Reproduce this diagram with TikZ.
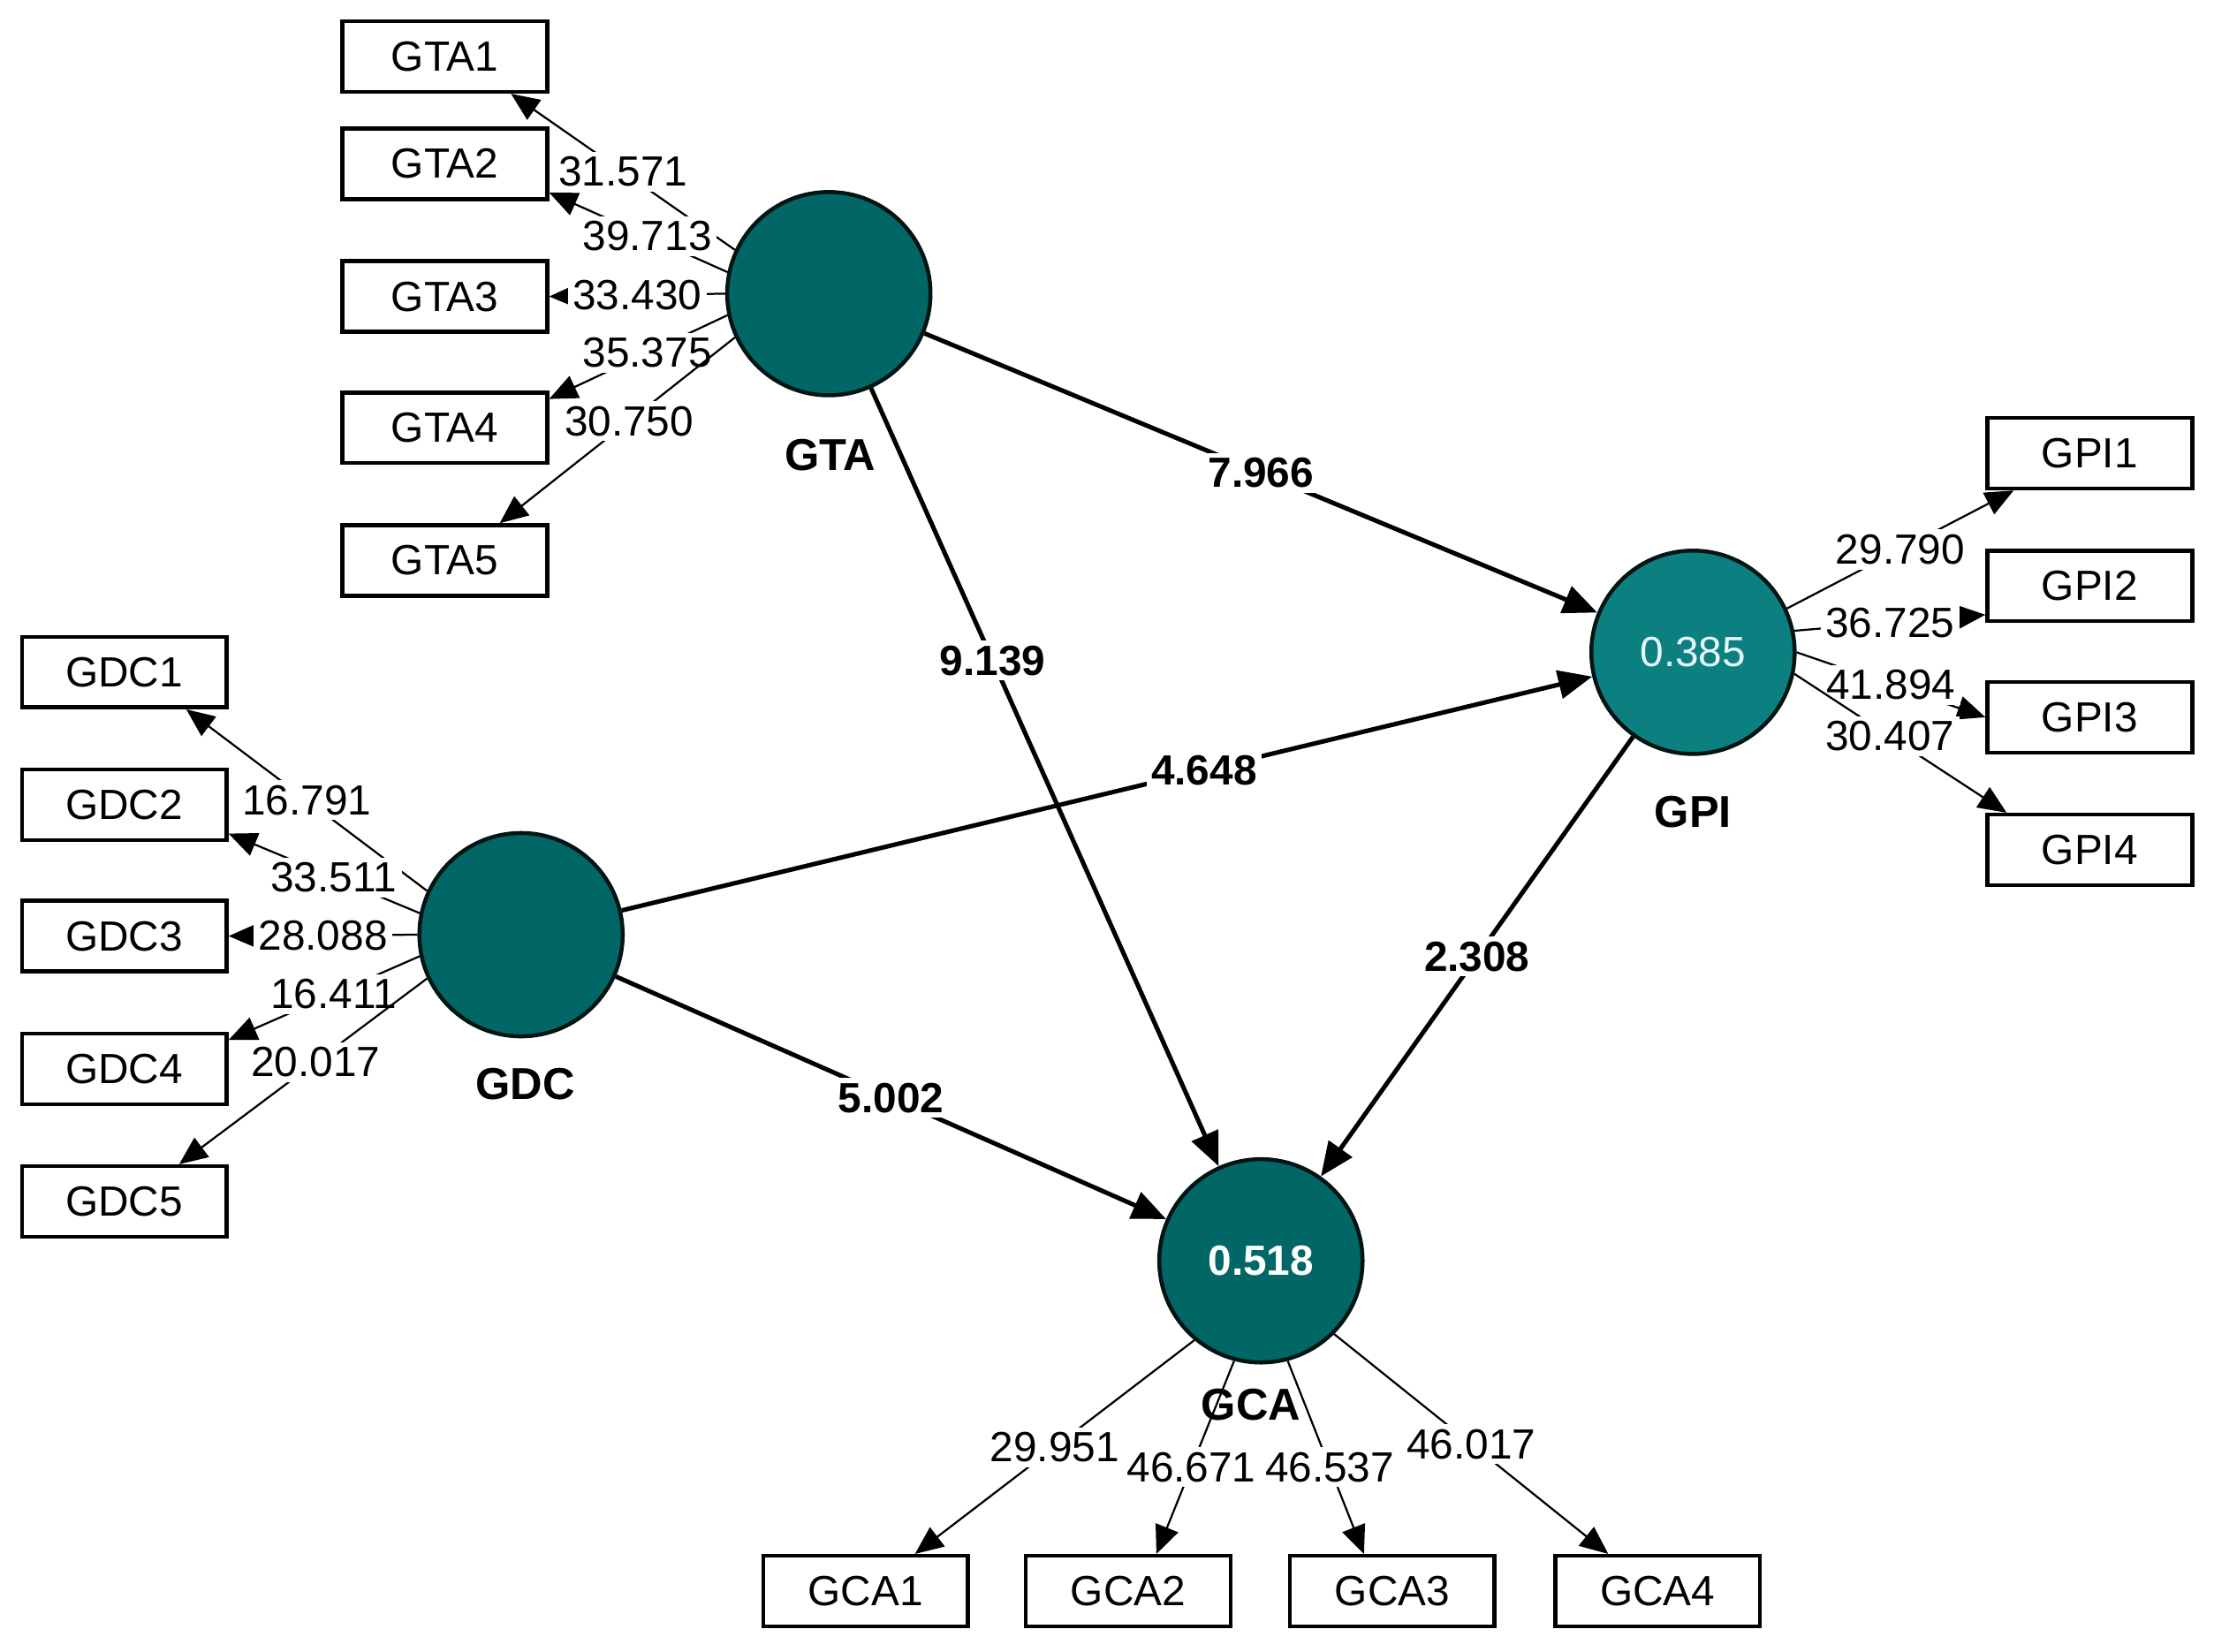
\documentclass[tikz,border=0pt]{standalone}
\usepackage{fontspec}
\setmainfont{Liberation Sans}
\usetikzlibrary{arrows.meta,calc}
\definecolor{dteal}{RGB}{0,102,102}
\definecolor{lteal}{RGB}{12,128,128}
\begin{document}
\begin{tikzpicture}[
  box/.style={draw,thick,minimum width=1.45cm,minimum height=0.5cm,inner sep=0pt,font=\fontsize{8.5}{9}\selectfont},
  lv/.style={circle,draw=black!80!dteal,thick,fill=dteal,minimum size=1.44cm,inner sep=0pt},
  lab/.style={font=\bfseries\fontsize{9}{10}\selectfont},
  ol/.style={-{Triangle[length=2mm,width=1.7mm]},thin},
  il/.style={-{Triangle[length=2.4mm,width=2mm]},line width=0.9pt},
  nl/.style={fill=white,inner sep=1pt,font=\fontsize{8.5}{9}\selectfont},
  bl/.style={fill=white,inner sep=1pt,font=\bfseries\fontsize{8.5}{9}\selectfont}]
\useasboundingbox (0,0) rectangle (15.68,-11.7);
% latent
\node[lv] (GTA) at (5.87,-2.08) {};
\node[lv] (GDC) at (3.69,-6.62) {};
\node[lv,fill=lteal] (GPI) at (11.99,-4.62) {\textcolor{white!90!cyan}{\fontsize{8.5}{9}\selectfont 0.385}};
\node[lv] (GCA) at (8.93,-8.93) {\textcolor{white}{\bfseries\fontsize{8.5}{9}\selectfont 0.518}};
\node[lab] at (5.88,-3.22) {GTA};
\node[lab] at (3.72,-7.68) {GDC};
\node[lab] at (11.99,-5.75) {GPI};
\node[lab] at (8.86,-9.95) {GCA};
% boxes
\foreach \n/\y in {1/0.40,2/1.16,3/2.10,4/3.03,5/3.97}{\node[box] (GTA\n) at (3.15,-\y) {GTA\n};}
\foreach \n/\y in {1/4.76,2/5.70,3/6.63,4/7.57,5/8.51}{\node[box] (GDC\n) at (0.88,-\y) {GDC\n};}
\foreach \n/\y in {1/3.21,2/4.15,3/5.08,4/6.02}{\node[box] (GPI\n) at (14.80,-\y) {GPI\n};}
\foreach \n/\x in {1/6.13,2/7.99,3/9.86,4/11.74}{\node[box] (GCA\n) at (\x,-11.27) {GCA\n};}
% GTA loadings
\draw[ol] (GTA.155) -- ($(GTA1.south east)+(-0.27,0)$) node[nl,pos=0.5] {31.571};
\draw[ol] (GTA.168) -- ($(GTA2.south east)+(0,0.06)$) node[nl,pos=0.45] {39.713};
\draw[ol] (GTA.180) -- (GTA3.east) node[nl,pos=0.5] {33.430};
\draw[ol] (GTA.192) -- ($(GTA4.north east)+(0,-0.06)$) node[nl,pos=0.45] {35.375};
\draw[ol] (GTA.205) -- ($(GTA5.north east)+(-0.35,0)$) node[nl,pos=0.45] {30.750};
% GDC loadings
\draw[ol] (GDC.155) -- ($(GDC1.south east)+(-0.3,0)$) node[nl,pos=0.5] {16.791};
\draw[ol] (GDC.168) -- ($(GDC2.south east)+(0,0.06)$) node[nl,pos=0.45] {33.511};
\draw[ol] (GDC.180) -- (GDC3.east) node[nl,pos=0.5] {28.088};
\draw[ol] (GDC.192) -- ($(GDC4.north east)+(0,-0.06)$) node[nl,pos=0.45] {16.411};
\draw[ol] (GDC.205) -- ($(GDC5.north east)+(-0.35,0)$) node[nl,pos=0.45] {20.017};
% GPI loadings
\draw[ol] (GPI.25) -- ($(GPI1.south west)+(0.2,0)$) node[nl,pos=0.5] {29.790};
\draw[ol] (GPI.12) -- ($(GPI2.south west)+(0,0.06)$) node[nl,pos=0.5] {36.725};
\draw[ol] (GPI.0) -- (GPI3.west) node[nl,pos=0.5] {41.894};
\draw[ol] (GPI.-12) -- ($(GPI4.north west)+(0.15,0)$) node[nl,pos=0.45] {30.407};
% GCA loadings
\draw[ol] (GCA.230) -- ($(GCA1.north)+(0.35,0)$) node[nl,pos=0.5] {29.951};
\draw[ol] (GCA.255) -- ($(GCA2.north)+(0.2,0)$) node[nl,pos=0.55] {46.671};
\draw[ol] (GCA.285) -- ($(GCA3.north)+(-0.2,0)$) node[nl,pos=0.55] {46.537};
\draw[ol] (GCA.315) -- ($(GCA4.north)+(-0.35,0)$) node[nl,pos=0.5] {46.017};
% inner
\draw[il] (GTA) -- (GPI) node[bl,pos=0.5] {7.966};
\draw[il] (GTA) -- (GCA) node[bl,pos=0.35] {9.139};
\draw[il] (GDC) -- (GPI) node[bl,pos=0.6] {4.648};
\draw[il] (GDC) -- (GCA) node[bl,pos=0.5] {5.002};
\draw[il] (GPI) -- (GCA) node[bl,pos=0.5] {2.308};
\end{tikzpicture}
\end{document}
